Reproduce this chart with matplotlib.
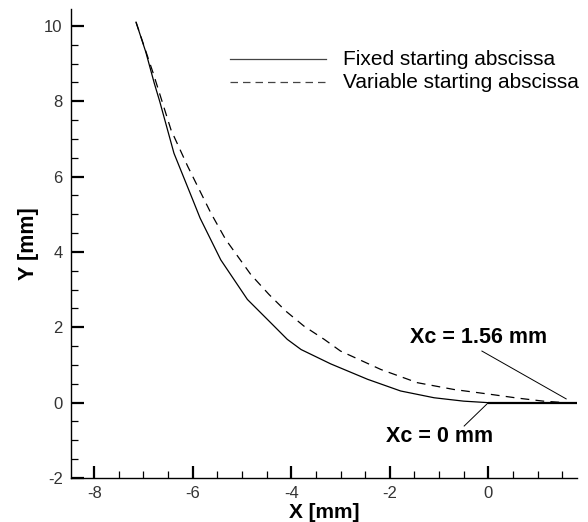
import matplotlib
matplotlib.use("Agg")
import matplotlib.pyplot as plt
from matplotlib.ticker import MultipleLocator

plt.rcParams['font.family'] = ['Liberation Sans', 'DejaVu Sans']
plt.rcParams['axes.unicode_minus'] = False

# fixed starting abscissa (Xc = 0 mm)
fixed_x = [-7.15, -6.95, -6.78, -6.67, -6.38, -6.0, -5.85, -5.43, -4.89, -4.4,
           -4.08, -3.8, -3.2, -2.45, -1.78, -1.1, -0.5, 0.0]
fixed_y = [10.1, 9.3, 8.48, 8.0, 6.62, 5.39, 4.9, 3.79, 2.74, 2.1,
           1.68, 1.41, 1.03, 0.62, 0.31, 0.13, 0.04, 0.0]

# variable starting abscissa (Xc = 1.56 mm)
var_x = [-7.15, -6.8, -6.44, -6.1, -5.63, -5.33, -4.82, -4.45, -4.11, -3.74,
         -3.33, -3.0, -2.18, -1.44, -0.7, 0.05, 0.6, 1.12, 1.56]
var_y = [10.1, 8.74, 7.24, 6.27, 5.03, 4.33, 3.4, 2.87, 2.43, 2.03,
         1.68, 1.37, 0.88, 0.53, 0.35, 0.22, 0.12, 0.04, 0.0]

wall_x = [0.0, 1.8]
wall_y = [0.0, 0.0]

fig = plt.figure(figsize=(5.88, 5.22), dpi=100)
ax = fig.add_axes([71/588, 44/522, (577-71)/588, (513-44)/522])

ax.plot(fixed_x, fixed_y, color='black', lw=0.9)
ax.plot(var_x, var_y, color='black', lw=0.9, dashes=(7, 5))
ax.plot(wall_x, wall_y, color='black', lw=1.6, solid_capstyle='butt')

ax.set_xlim(-8.47, 1.8)
ax.set_ylim(-2, 10.45)

for s in ['top', 'right']:
    ax.spines[s].set_visible(False)
for s in ['left', 'bottom']:
    ax.spines[s].set_linewidth(1.0)

ax.xaxis.set_major_locator(MultipleLocator(2))
ax.xaxis.set_minor_locator(MultipleLocator(0.5))
ax.yaxis.set_major_locator(MultipleLocator(2))
ax.yaxis.set_minor_locator(MultipleLocator(0.5))
ax.tick_params(which='major', direction='in', length=9, width=1.6,
               labelsize=12, pad=6, colors='black', labelcolor='#333333')
ax.tick_params(which='minor', direction='in', length=5, width=0.9)

ax.set_xlabel('X [mm]', fontsize=15, fontweight='bold', labelpad=1)
ax.set_ylabel('Y [mm]', fontsize=15.5, fontweight='bold', labelpad=4)

# legend drawn by hand
ax.plot([-5.24, -3.29], [9.12, 9.12], color='#444444', lw=0.9)
ax.plot([-5.24, -3.29], [8.51, 8.51], color='#444444', lw=0.9, dashes=(6, 4))
ax.text(-2.95, 9.12, 'Fixed starting abscissa', fontsize=15, va='center', ha='left')
ax.text(-2.95, 8.51, 'Variable starting abscissa', fontsize=15, va='center',
        ha='left', clip_on=False)

# annotations
ax.text(-0.19, 1.74, 'Xc = 1.56 mm', fontsize=15.5, fontweight='bold',
        ha='center', va='center')
ax.plot([-0.13, 1.58], [1.37, 0.1], color='black', lw=0.7)
ax.text(-0.99, -0.91, 'Xc = 0 mm', fontsize=15.5, fontweight='bold',
        ha='center', va='center')
ax.plot([-0.49, 0.0], [-0.62, 0.0], color='black', lw=0.7)

fig.savefig('out.png', dpi=100)
